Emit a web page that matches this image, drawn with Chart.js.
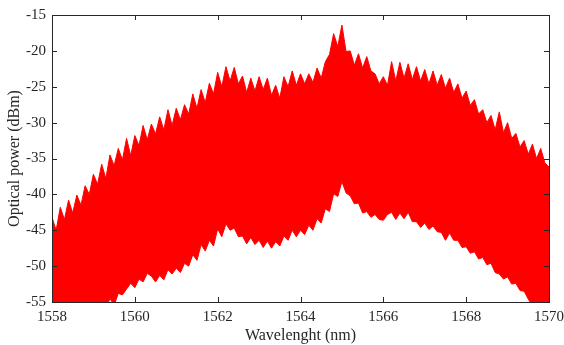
<!DOCTYPE html>
<html>
<head>
<meta charset="utf-8">
<script src="https://cdn.jsdelivr.net/npm/chart.js@4/dist/chart.umd.min.js"></script>
<style>
  html, body { margin: 0; padding: 0; background: #fff; }
  #wrap { width: 564px; height: 345px; }
</style>
</head>
<body>
<div id="wrap"><canvas id="spectrum"></canvas></div>
<script>
// wavelength grid (nm), 0.1 nm steps
const wavelengths = [];
for (let i = 0; i <= 120; i++) wavelengths.push(+(1558 + i * 0.1).toFixed(1));

// top edge of the comb (dBm)
const upperPower = [
    -43.2, -45.0, -41.8, -43.5, -40.8, -42.6, -40.1, -41.5, -38.8, -40.0,
    -37.2, -38.6, -35.8, -37.8, -34.5, -36.0, -33.6, -35.2, -32.2, -34.6,
    -31.8, -33.2, -30.4, -32.4, -30.2, -31.6, -29.2, -31.0, -28.2, -30.4,
    -28.0, -29.6, -27.5, -28.8, -26.0, -28.0, -25.4, -27.2, -24.5, -26.0,
    -23.0, -25.0, -22.2, -24.2, -22.3, -24.6, -23.5, -25.8, -23.8, -25.6,
    -23.6, -25.4, -23.8, -26.2, -24.8, -26.6, -23.6, -25.0, -22.8, -24.8,
    -23.2, -24.6, -23.2, -24.4, -22.4, -23.8, -21.5, -20.5, -17.6, -19.4,
    -16.4, -20.1, -20.0, -22.0, -20.4, -22.4, -20.8, -22.8, -23.2, -24.6,
    -23.6, -24.8, -21.5, -24.2, -21.6, -23.8, -21.8, -24.0, -22.2, -24.2,
    -22.6, -24.6, -22.8, -24.8, -23.3, -25.2, -23.8, -25.8, -24.6, -26.6,
    -25.6, -27.6, -26.8, -28.8, -28.2, -30.0, -29.0, -31.0, -28.5, -31.4,
    -30.0, -32.2, -31.5, -33.4, -32.5, -34.4, -33.0, -35.0, -33.6, -35.6,
    -36.2
];

// bottom edge of the comb (dBm)
const lowerPower = [
    -56.0, -56.0, -56.0, -56.0, -56.0, -56.0, -56.0, -56.0, -56.0, -56.0,
    -56.0, -56.0, -56.0, -56.0, -54.5, -55.5, -53.8, -54.0, -53.2, -52.4,
    -53.0, -51.8, -52.2, -51.0, -51.4, -52.2, -51.3, -51.9, -50.5, -51.1,
    -50.3, -50.9, -49.6, -50.0, -48.4, -49.2, -47.0, -47.9, -46.4, -47.2,
    -44.8, -45.9, -44.1, -45.0, -44.7, -45.9, -45.8, -46.9, -46.0, -47.0,
    -46.4, -47.4, -46.5, -47.5, -46.6, -47.2, -45.8, -46.4, -45.0, -45.9,
    -45.0, -45.6, -44.3, -45.0, -43.4, -44.0, -42.0, -42.4, -39.9, -40.3,
    -38.2, -39.8, -40.2, -41.3, -41.2, -42.6, -42.4, -43.2, -42.8, -43.5,
    -43.6, -42.8, -42.5, -43.5, -42.6, -43.4, -42.5, -43.8, -43.8, -44.6,
    -44.0, -44.9, -44.4, -45.2, -45.3, -46.4, -45.4, -46.4, -46.4, -47.4,
    -47.3, -48.2, -48.0, -49.0, -48.8, -49.8, -49.6, -50.9, -51.1, -51.8,
    -51.5, -52.5, -52.4, -53.4, -53.5, -54.6, -55.5, -56.0, -55.2, -56.0,
    -56.0
];

const xTicks = [1558, 1560, 1562, 1564, 1566, 1568, 1570];
const yTicks = [-55, -50, -45, -40, -35, -30, -25, -20, -15];

const toPoints = function (vals) {
    return wavelengths.map(function (w, i) { return { x: w, y: vals[i] }; });
};

// MATLAB style box with inward ticks
const boxTicks = {
    id: 'boxTicks',
    afterDraw: function (chart) {
        const ctx = chart.ctx;
        const a = chart.chartArea;
        const xs = chart.scales.x, ys = chart.scales.y;
        ctx.save();
        ctx.strokeStyle = '#262626';
        ctx.lineWidth = 1;
        ctx.beginPath();
        xTicks.forEach(function (t) {
            const px = Math.round(xs.getPixelForValue(t)) + 0.5;
            ctx.moveTo(px, a.bottom); ctx.lineTo(px, a.bottom - 5);
            ctx.moveTo(px, a.top); ctx.lineTo(px, a.top + 5);
        });
        yTicks.forEach(function (t) {
            const py = Math.round(ys.getPixelForValue(t)) + 0.5;
            ctx.moveTo(a.left, py); ctx.lineTo(a.left + 5, py);
            ctx.moveTo(a.right, py); ctx.lineTo(a.right - 5, py);
        });
        ctx.stroke();
        ctx.strokeRect(Math.round(a.left) + 0.5, Math.round(a.top) + 0.5,
            Math.round(a.right - a.left), Math.round(a.bottom - a.top));
        ctx.restore();
    }
};

const font = { family: 'Liberation Serif', size: 15 };

new Chart(document.getElementById('spectrum'), {
    type: 'line',
    data: {
        datasets: [{
            data: toPoints(upperPower),
            borderColor: '#ff0000',
            backgroundColor: '#ff0000',
            borderWidth: 1,
            pointRadius: 0,
            tension: 0,
            fill: '+1'
        }, {
            data: toPoints(lowerPower),
            borderColor: '#ff0000',
            borderWidth: 1,
            pointRadius: 0,
            tension: 0,
            fill: false
        }]
    },
    options: {
        responsive: true,
        maintainAspectRatio: false,
        animation: false,
        layout: { padding: { top: 15, right: 15, left: 0, bottom: 0 } },
        plugins: { legend: { display: false }, tooltip: { enabled: false } },
        scales: {
            x: {
                type: 'linear',
                min: 1558, max: 1570,
                afterBuildTicks: function (s) { s.ticks = xTicks.map(function (v) { return { value: v }; }); },
                afterFit: function (s) { s.height = 43; s.paddingLeft = 0; s.paddingRight = 0; },
                grid: { display: false, drawTicks: false },
                border: { display: false },
                ticks: { color: '#262626', font: font, padding: 6, maxRotation: 0,
                    callback: function (v) { return String(v); } },
                title: { display: true, text: 'Wavelenght (nm)', color: '#262626',
                    font: { family: 'Liberation Serif', size: 16 }, padding: { top: 0, bottom: 0 } }
            },
            y: {
                min: -55, max: -15,
                afterBuildTicks: function (s) { s.ticks = yTicks.map(function (v) { return { value: v }; }); },
                afterFit: function (s) { s.width = 52; s.paddingTop = 0; s.paddingBottom = 0; },
                grid: { display: false, drawTicks: false },
                border: { display: false },
                ticks: { color: '#262626', font: font, padding: 6,
                    callback: function (v) { return String(v); } },
                title: { display: true, text: 'Optical power (dBm)', color: '#262626',
                    font: { family: 'Liberation Serif', size: 16 }, padding: { top: 5, bottom: 0 } }
            }
        }
    },
    plugins: [boxTicks]
});
</script>
</body>
</html>
